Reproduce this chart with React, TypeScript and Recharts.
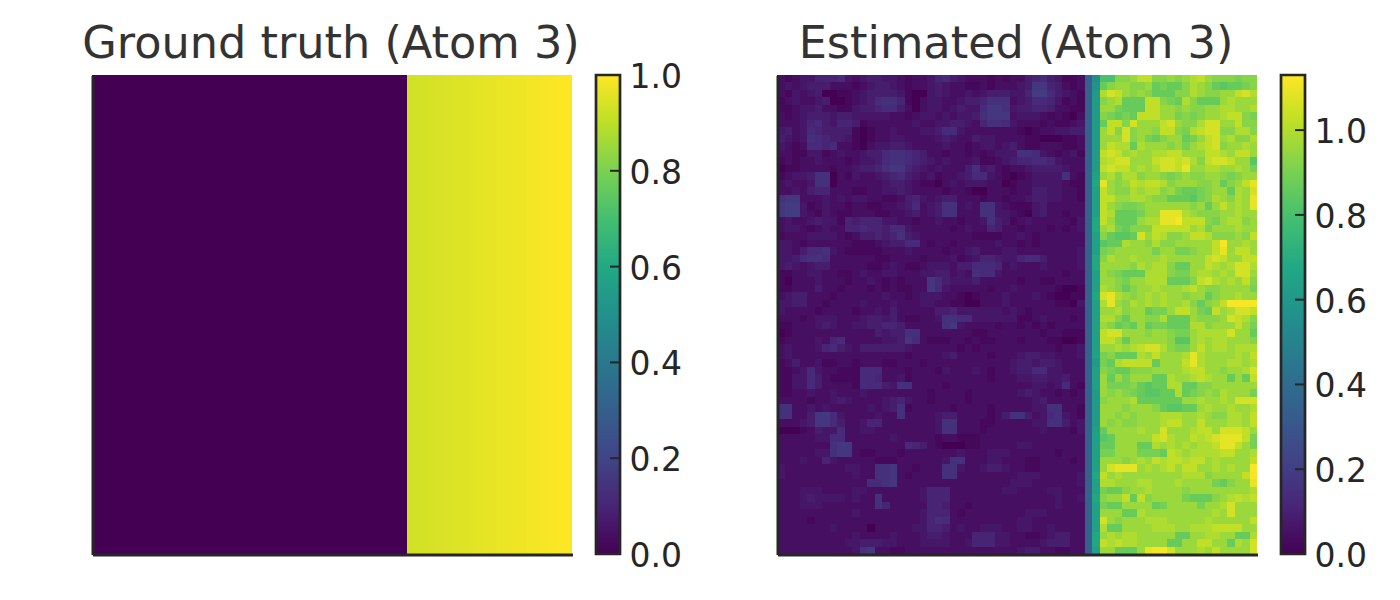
import React from "react";
import { Bar, BarChart, ReferenceLine, Scatter, ScatterChart, XAxis, YAxis } from "recharts";

const GRID_SIZE = 64;
const PLOT_WIDTH = 480;
const PLOT_HEIGHT = 479;
const INK = "#262626";

const titleLeft = "Ground truth (Atom 3)";
const titleRight = "Estimated (Atom 3)";

const ticksLeft = [0, 0.2, 0.4, 0.6, 0.8, 1.0];
const ticksRight = [0, 0.2, 0.4, 0.6, 0.8, 1.0];
const maxLeft = 1.0;
const maxRight = 1.13;

const viridis = ["#440154", "#482576", "#414487", "#355f8d", "#2a788e", "#21918c", "#22a884", "#44bf70", "#7ad151", "#bddf26", "#fde725"];

// every row of the ground truth looks the same, so one list of columns is enough
const groundTruthColumns = [
  0, 0, 0, 0, 0, 0, 0, 0, 0, 0, 0, 0, 0, 0, 0, 0, 0, 0, 0, 0, 0,
  0, 0, 0, 0, 0, 0, 0, 0, 0, 0, 0, 0, 0, 0, 0, 0, 0, 0, 0, 0, 0,
  0.93, 0.933, 0.936, 0.94, 0.943, 0.946, 0.95, 0.953, 0.956, 0.96, 0.963,
  0.966, 0.97, 0.973, 0.976, 0.98, 0.983, 0.986, 0.99, 0.993, 0.997, 1.0,
];

// estimated map, one char per cell: digits step 0.022 (dark part), letters are base 36 with step 0.032
const estimatedRows = [
  "2123355563 2344332122 3564322212 1224564311 2 bh ppttuwwttu tuvwutttst t",
  "2323444222 1234432122 3432211212 2234885421 2 bi rtuuttursr rtvutrqrrs t",
  "2132340011 2344443100 3432232344 4335996432 1 bj vxwututrrr ttvuttuuwx v",
  "1232234001 2346775102 3322344577 7234665312 1 bj tuvrrrwwts rvtrrruvuu u",
  "1123342211 3445664202 3323433688 7344554221 1 bj uusrrrwwuu tuttuuvvuu v",
  "2123444344 3333322123 3232334788 8233321210 2 bj tsrsrwwwuu ststuuvwwt s",
  "2223564355 4122222232 2334432577 6322212112 3 bj rwwtxuuuwx uttvxxuuwt t",
  "3423654444 1012232223 3466322222 2210122334 4 bj uwtxtuutww tsvwxxttvv t",
  "4323765443 1012233222 2343224332 2221100011 2 bj uuuxtusrtu ursuwxuvtt v",
  "3212665622 1023344322 2232212332 3421122211 2 bj uwvvrvuuut usuvwxtuuv u",
  "2211331232 2344677654 2212212123 3377632123 1 bj wxwuvuuvvw wuuuwwvuww u",
  "1212232221 2334677654 3232223112 3455665322 2 bj vwxxuuuwxx wxvtwxxwuu q",
  "0112222122 3445788543 2322247342 1223444432 2 bj wxwwuvuvxx wyuuvvuuvu s",
  "1233477021 3223456432 3122346632 1012333372 1 bk uvtvvtuuts tuttuutstu u",
  "2322377022 2222344321 1023233322 0122333321 1 bl yutuwvwwvt uuutturtuw y",
  "2232455222 1122334322 2212210022 2122443322 1 bk wuttvuvvtu srrstuurvu x",
  "7882223232 3322112453 2344222122 1223443322 1 bk wwuuvvuttr rrqstvutvu y",
  "8993123221 2211223462 3477232773 2111342222 2 bk wutsstuuuu uuturuwuvu y",
  "8993213211 2221122342 3477222773 3210342212 2 bk wvrrrsuuyy yvutttuuvu u",
  "2322343315 4555332212 2322122374 3123222221 3 bl wurrruvvyy zwwwtsuvvt u",
  "2332123225 5655466322 2221232254 2212221212 3 bl uvsrtttwww wwuvsuuuvu u",
  "1222333321 2445457432 2222221111 2232122222 2 bk trqqrxuwvt tuwwvtttut w",
  "3321222222 1112344662 1221222223 2212122222 2 bk qrrvuutvtt uuuuuwzuuv u",
  "3324667321 1111222322 2212234222 3322222222 3 bk stuuuuusuu sstuuwyuww u",
  "3346776222 2221122221 2223123554 3356642222 3 bl tvuuvuuuvu uuuuwxwuuw w",
  "3432344222 2211232112 3332446665 2322232222 3 bl uuuutvuvvt rruuwvuvxx v",
  "1122332211 2322332223 3442327663 2222222212 2 bk utsrrrvvvt ssuvvuvuxx u",
  "1022232221 2232121222 8643334222 2212211222 2 bk uutsuuvvvr rrtwxvuvuw t",
  "1122242212 2212121122 8632222212 2322222100 1 bk vutrtuuvuu uvwuttuuuu s",
  "2344222122 2222322123 3322101222 3222321001 1 bl xyvutuvuvu utuurtuuvu u",
  "3344221222 2322232223 3221100222 3222222110 3 bk vyutvuvuvu uvtrtuwzzz z",
  "3222212222 1223242222 2445333333 2321222222 2 bk uuvtuurssu wwusrwuvxx w",
  "2221233322 2344342112 2377663333 3311232221 2 bk vvtruuttvr rrutttuxwv t",
  "1122234322 3344554222 2278322221 2212121222 2 bk utrsrurssr rrvvtuuuwu s",
  "0122222222 2224344772 2222221122 2222212211 1 bk wxxuuutuut ssuvvvvxuu r",
  "1222232562 2222334862 1112212112 2212221100 1 bk wwuruuuuut qquvuvvuuu t",
  "2322235643 2444444322 2222121222 2222222122 3 bk uuvuvwxxvt ssuwuvvuvv v",
  "2322222222 2222222122 2234222212 2234433222 3 bk strrrvuwuu uvyvuuuuvu w",
  "1242231122 1222112221 2222222222 2344344322 2 bj srvwwwwruu uwyvuuuvvu v",
  "1123632211 1666222122 2132223212 2344663322 2 bk tsrrtttuuu uvwwuutuuv x",
  "1133642111 1665223122 2222222212 2233443342 2 bk urusuuurrv uuvwvuurur w",
  "1133642222 1666437722 2212222222 2222332362 1 bk ussstrqrrv vrrttuuuuu u",
  "1122322322 2322222222 1222212222 2234322121 2 bj ututsrqqrr vrstutvuuu s",
  "2222122343 2222345322 1222212222 2222342222 2 bj tuuuvrrrrr ruuvuuvuxx x",
  "7722323222 2232347122 2221222212 2222337722 1 bj uuutuuutrq qrruvuuvuu v",
  "7722488632 2223227222 2344222212 4774236732 1 bj uututuuuvv vuuvuttvvu w",
  "2223488642 2355222222 2377222112 2222337742 3 bj ututtuuuvw wuuwuuuvvu w",
  "0001243362 2332222222 2377222122 2222232221 3 bk ruuuuvuuxu uuvwwuxxxw u",
  "2222233662 2222232222 2122111222 2222222222 2 bk qruuuuuwxv uuwvwxyyyw s",
  "2222222788 2222222654 2100011222 2233222222 2 bk rruuurrvuv uvuvvwyywu s",
  "2222233788 2112221222 2222322233 3222222122 2 bk ssuuusssrw vuvvvvwwuu v",
  "2223225322 2221112222 2237722233 2221122221 2 bk uuutuvuwvw wvwwuvuuuu w",
  "3222222223 3227782212 2277322344 3221122222 2 bk uxyyyuvuvw uwwuuvuvuu z",
  "3222222222 3227782122 2277222222 2233322222 3 bl wuvuuuuuuu uvvvtuuuuw z",
  "2222222222 2266782222 2222222222 2333222222 3 bk vvuuuvvuuu vuuuusrtuu y",
  "2223332222 3322222223 5552222222 3322223322 2 bk srrtuuvuuu utuuuuuuuu v",
  "2223433332 3227222223 5552222222 2222222322 3 bl tuuwrwtuuu usrrrtuvwv w",
  "2223332222 2227522222 5542212222 2222222322 2 bk srruuuursu uuusuuvxuu u",
  "2222222222 3222222223 5552122222 2223332222 2 bk uuurrvuuuu uuuuuvuxuu u",
  "2222122222 2222222223 5762222222 2233222222 2 bk xutuuuvvvu uuuuvuuuuu w",
  "2222222322 2202222233 5542322333 2233223222 2 bk vrruuuuvvv uuvvvwwwwu u",
  "2222222222 3222232223 4432225553 3221123442 2 bl uvuvvuuuuu rruuvvuurr v",
  "2222222223 3444332223 3332235553 3222234442 2 bl wvwvvuuuur ruuwwuurvu x",
  "2222222222 3782211222 2222222222 2234422112 2 bk uurrruyzzx uuuvuwuuuu x",
];

const toCells = (rows: number[][]) =>
  rows.flatMap((row, y) => row.map((value, x) => ({ x: x + 0.5, y: y + 0.5, value })));

const decode = (c: string) => (c >= "0" && c <= "9" ? Number(c) * 0.022 : parseInt(c, 36) * 0.032);

const groundTruthCells = toCells(Array.from({ length: GRID_SIZE }, () => groundTruthColumns));
const estimatedCells = toCells(
  estimatedRows.map((row) => row.replace(/ /g, "").slice(0, GRID_SIZE).split("").map(decode))
);

const colorFor = (value: number, max: number) => {
  const t = Math.min(Math.max(value / max, 0), 1) * (viridis.length - 1);
  const i = Math.min(Math.floor(t), viridis.length - 2);
  const a = viridis[i];
  const b = viridis[i + 1];
  const mix = (s: number) => {
    const ca = parseInt(a.slice(s, s + 2), 16);
    const cb = parseInt(b.slice(s, s + 2), 16);
    return Math.round(ca + (cb - ca) * (t - i));
  };
  return `rgb(${mix(1)},${mix(3)},${mix(5)})`;
};

const chartMargin = { top: 20, right: 20, bottom: 21, left: 20 };
const axisProps = { type: "number" as const, domain: [0, GRID_SIZE], allowDataOverflow: true, tick: false, tickLine: false, axisLine: false };

const Heatmap = ({ cells, max, left }: { cells: { x: number; y: number; value: number }[]; max: number; left: number }) => {
  const w = PLOT_WIDTH / GRID_SIZE;
  const h = PLOT_HEIGHT / GRID_SIZE;
  const drawCell = (props: any) => (
    <rect
      x={props.cx - w / 2}
      y={props.cy - h / 2}
      width={w}
      height={h}
      fill={colorFor(props.payload.value, max)}
      shapeRendering="crispEdges"
    />
  );
  return (
    <>
      <div style={{ position: "absolute", left, top: 55 }}>
        <ScatterChart width={520} height={520} margin={chartMargin}>
          <XAxis {...axisProps} dataKey="x" height={0} />
          <YAxis {...axisProps} dataKey="y" reversed width={0} />
          <Scatter data={cells} shape={drawCell} isAnimationActive={false} />
        </ScatterChart>
      </div>
      {/* spines sit on top of the image, reference lines would go under the cells */}
      <div style={{ position: "absolute", left: left + 0.5, top: 55.6 }}>
        <ScatterChart width={520} height={520} margin={chartMargin}>
          <XAxis {...axisProps} dataKey="x" height={0} />
          <YAxis {...axisProps} dataKey="y" reversed width={0} />
          <Scatter data={[]} isAnimationActive={false} />
          <ReferenceLine x={0} stroke={INK} strokeWidth={3} />
          <ReferenceLine y={GRID_SIZE} stroke={INK} strokeWidth={3} />
        </ScatterChart>
      </div>
    </>
  );
};

const ColorbarTick = ({ x, y, payload }: any) => (
  <g>
    <line x1={x - 10} x2={x} y1={y} y2={y} stroke={INK} strokeWidth={2} />
    <text x={x + 9.5} y={y + 13} fontSize={33} fontFamily="DejaVu Sans" fill={INK}>
      {Number(payload.value).toFixed(1)}
    </text>
  </g>
);

const Colorbar = ({ id, left, max, ticks }: { id: string; left: number; max: number; ticks: number[] }) => (
  <div style={{ position: "absolute", left, top: 55 }}>
    <BarChart
      width={120}
      height={520}
      data={[{ name: "scale", value: max }]}
      margin={{ top: 20, right: 0, bottom: 21, left: 5 }}
      barCategoryGap={0}
    >
      <defs>
        <linearGradient id={id} x1="0" y1="1" x2="0" y2="0">
          {viridis.map((color, i) => (
            <stop key={color} offset={i / (viridis.length - 1)} stopColor={color} />
          ))}
        </linearGradient>
      </defs>
      <XAxis dataKey="name" hide />
      <YAxis
        orientation="right"
        width={91}
        domain={[0, max]}
        ticks={ticks}
        interval={0}
        tick={<ColorbarTick />}
        tickLine={false}
        tickSize={0}
        tickMargin={0}
        axisLine={false}
      />
      <Bar dataKey="value" fill={`url(#${id})`} stroke={INK} strokeWidth={2.7} isAnimationActive={false} />
    </BarChart>
  </div>
);

const Title = ({ text, center }: { text: string; center: number }) => (
  <div
    style={{
      position: "absolute",
      left: center - 300,
      width: 600,
      top: 17,
      textAlign: "center",
      fontFamily: "DejaVu Sans",
      fontSize: 44.6,
      lineHeight: "52px",
      color: "#333333",
    }}
  >
    {text}
  </div>
);

const App = () => (
  <div style={{ position: "absolute", left: 0, top: 0, width: 1400, height: 600, background: "#fff", overflow: "hidden" }}>
    <Title text={titleLeft} center={331} />
    <Title text={titleRight} center={1016} />
    <Heatmap cells={groundTruthCells} max={maxLeft} left={72} />
    <Colorbar id="barLeft" left={590.5} max={maxLeft} ticks={ticksLeft} />
    <Heatmap cells={estimatedCells} max={maxRight} left={757} />
    <Colorbar id="barRight" left={1275.5} max={maxRight} ticks={ticksRight} />
  </div>
);

export default App;
